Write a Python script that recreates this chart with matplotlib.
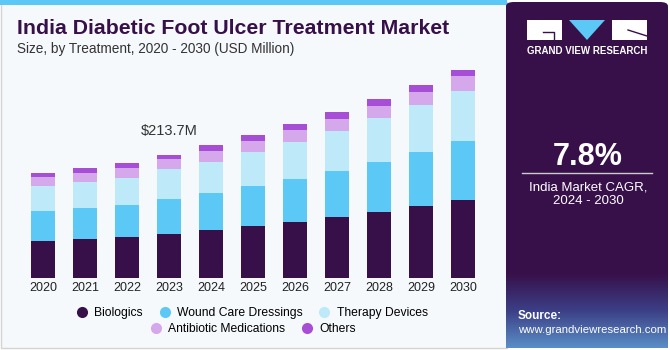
import numpy as np
import matplotlib.pyplot as plt
from matplotlib.patches import Rectangle, FancyBboxPatch, Polygon
from matplotlib.lines import Line2D
from matplotlib.colors import LinearSegmentedColormap

years = ['2020', '2021', '2022', '2023', '2024', '2025', '2026', '2027', '2028', '2029', '2030']
biologics = [64.3, 67.2, 71.7, 77.0, 83.9, 90.8, 97.3, 105.4, 114.6, 125.6, 136.0]
wound_care = [52.1, 54.9, 55.6, 59.8, 64.3, 69.5, 75.2, 80.9, 86.9, 93.8, 101.4]
therapy = [43.4, 44.1, 46.9, 52.1, 53.8, 59.1, 64.3, 69.5, 75.9, 81.1, 87.9]
antibiotic = [16.2, 16.2, 16.3, 17.4, 18.6, 18.6, 20.3, 20.8, 21.4, 23.1, 25.0]
others = [6.9, 8.2, 8.7, 7.5, 9.9, 9.9, 9.9, 11.1, 11.6, 11.1, 11.5]

series = [biologics, wound_care, therapy, antibiotic, others]
names = ['Biologics', 'Wound Care Dressings', 'Therapy Devices', 'Antibiotic Medications', 'Others']
colors = ['#37104A', '#5BC8F5', '#BDE9F9', '#D5A8EC', '#A64FD6']

W, H = 670, 350
plt.rcParams['font.family'] = ['Liberation Sans', 'DejaVu Sans']

fig = plt.figure(figsize=(W / 100, H / 100), dpi=100)
fig.patch.set_facecolor('white')


def fx(px):
    return px / W


def fy(py):
    return 1 - py / H


# left card
fig.patches.append(Rectangle((fx(1), fy(348)), fx(506), 346 / H, transform=fig.transFigure,
                             facecolor='#F5F9FC', edgecolor='#D4D4D4', lw=1, zorder=-2))
fig.patches.append(Rectangle((0, fy(5)), fx(507), 5 / H, transform=fig.transFigure,
                             facecolor='#5BC8F5', edgecolor='none', zorder=-1))

# right panel
fig.patches.append(FancyBboxPatch((fx(506), fy(348)), fx(162), 346 / H,
                                  boxstyle='round,pad=0,rounding_size=0.012',
                                  transform=fig.transFigure, facecolor='#37104A',
                                  edgecolor='none', zorder=-1))
gax = fig.add_axes([fx(506), fy(348), fx(162), 75 / H], zorder=1)
grad = np.linspace(0, 1, 100)[:, None] * np.ones((1, 10))
cm = LinearSegmentedColormap.from_list('g', ['#37104A', '#3C3F86', '#5A8EC6'])
gax.imshow(grad, aspect='auto', cmap=cm, origin='upper', extent=[0, 1, 0, 1])
gax.axis('off')

# logo
fig.patches.append(Rectangle((fx(527), fy(40)), fx(35), 20 / H, transform=fig.transFigure,
                             facecolor='white', edgecolor='none', zorder=3))
fig.patches.append(Rectangle((fx(612), fy(40)), fx(35), 20 / H, transform=fig.transFigure,
                             facecolor='white', edgecolor='none', zorder=3))
fig.patches.append(Polygon([(fx(569), fy(20)), (fx(605), fy(20)), (fx(587), fy(40))],
                           closed=True, transform=fig.transFigure,
                           facecolor='#5BC8F5', edgecolor='none', zorder=3))
fig.lines.append(Line2D([fx(543), fx(554), fx(554)], [fy(32), fy(32), fy(40)],
                        transform=fig.transFigure, color='#37104A', lw=1, zorder=4))
fig.lines.append(Line2D([fx(628), fx(647)], [fy(30), fy(36)],
                        transform=fig.transFigure, color='#37104A', lw=1, zorder=4))
fig.text(fx(587), fy(51), 'GRAND VIEW RESEARCH', color='white', fontsize=7,
         fontweight='bold', ha='center', va='center', zorder=4)

fig.text(fx(588), fy(157), '7.8%', color='white', fontsize=22, fontweight='bold',
         ha='center', va='center', zorder=4)
fig.lines.append(Line2D([fx(522), fx(652)], [fy(173), fy(173)], transform=fig.transFigure,
                        color='#CCCCCC', lw=1, zorder=4))
fig.text(fx(588), fy(187), 'India Market CAGR,', color='white', fontsize=9.5,
         ha='center', va='center', zorder=4)
fig.text(fx(588), fy(201), '2024 - 2030', color='white', fontsize=9.5,
         ha='center', va='center', zorder=4)
fig.text(fx(518), fy(316), 'Source:', color='white', fontsize=8.5, fontweight='bold',
         ha='left', va='center', zorder=4)
fig.text(fx(518), fy(330), 'www.grandviewresearch.com', color='white', fontsize=8.2,
         ha='left', va='center', zorder=4)

# titles
fig.text(fx(17), fy(28), 'India Diabetic Foot Ulcer Treatment Market', color='#37104A',
         fontsize=15.3, fontweight='bold', ha='left', va='center')
fig.text(fx(17), fy(49), 'Size, by Treatment, 2020 - 2030 (USD Million)', color='#333333',
         fontsize=9.8, ha='left', va='center')

# chart
ax = fig.add_axes([fx(10), fy(278), fx(487), 218 / H], zorder=2)
ax.set_facecolor('none')
x = np.arange(len(years))
bottom = np.zeros(len(years))
for vals, c in zip(series, colors):
    ax.bar(x, vals, width=0.57, bottom=bottom, color=c, edgecolor='none')
    bottom += np.array(vals)

ax.set_xlim((10 - 43) / 42, (497 - 43) / 42)
ax.set_ylim(0, 218 * 213.7 / 123)
ax.set_xticks(x)
ax.set_xticklabels(years, fontsize=9, color='#222222')
ax.tick_params(axis='x', length=0, pad=3)
ax.set_yticks([])
for s in ax.spines.values():
    s.set_visible(False)

ax.annotate('$213.7M', xy=(3, bottom[3]), xytext=(0, 12), textcoords='offset points',
            ha='center', va='bottom', fontsize=10.5, color='#333333')


# legend
def handle(c):
    return Line2D([], [], marker='o', linestyle='none', markersize=8,
                  markerfacecolor=c, markeredgecolor='none')


fig.legend([handle(c) for c in colors[:3]], names[:3], loc='center',
           bbox_to_anchor=(fx(252), fy(313)), ncol=3, frameon=False,
           fontsize=8.7, handletextpad=0.5, columnspacing=1.3, handlelength=1.0)
fig.legend([handle(c) for c in colors[3:]], names[3:], loc='center',
           bbox_to_anchor=(fx(253), fy(329)), ncol=2, frameon=False,
           fontsize=8.7, handletextpad=0.5, columnspacing=1.3, handlelength=1.0)

fig.savefig('out.png', dpi=100)
